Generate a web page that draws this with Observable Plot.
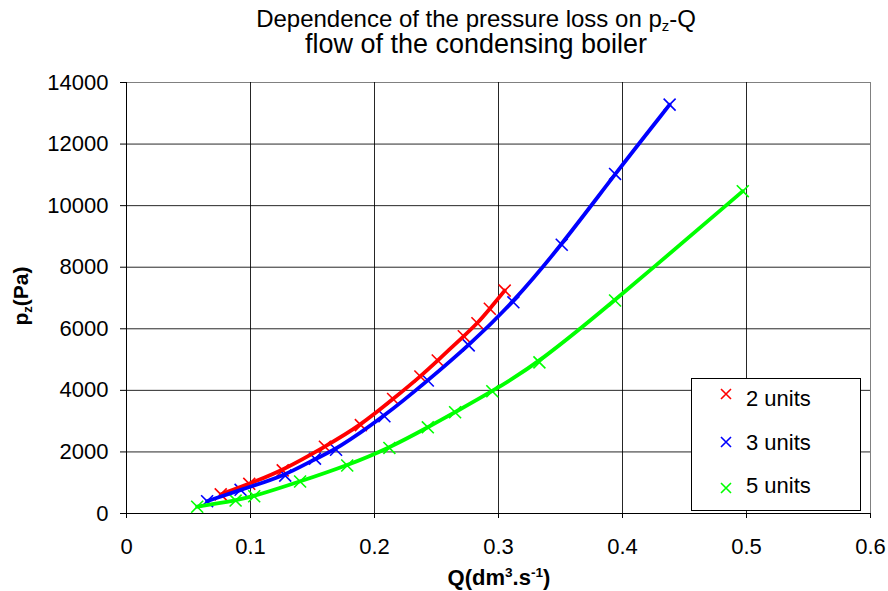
<!DOCTYPE html>
<html>
<head>
<meta charset="utf-8">
<script src="https://cdn.jsdelivr.net/npm/d3@7"></script>
<script src="https://cdn.jsdelivr.net/npm/@observablehq/plot@0.6"></script>
<style>
  html, body { margin: 0; padding: 0; background: #fff; }
  #wrap { position: relative; width: 888px; height: 591px; font-family: "Liberation Sans", Arial, sans-serif; color: #000; overflow: hidden; }
  #title1, #title2 { position: absolute; left: 76px; width: 800px; text-align: center; line-height: 1; white-space: nowrap; }
  #title1 { top: 7px; font-size: 24px; }
  #title2 { top: 31px; font-size: 27px; }
  #chart { position: absolute; left: 0; top: 60px; }
  #ylab { position: absolute; left: 22px; top: 296px; transform: translate(-50%, -50%) rotate(-90deg); font-weight: bold; font-size: 21px; white-space: nowrap; line-height: 1; }
  #xlab { position: absolute; left: 499px; top: 566px; transform: translateX(-50%); font-weight: bold; font-size: 22px; white-space: nowrap; line-height: 1; }
  sub { font-size: 0.62em; vertical-align: -0.25em; }
  sup { font-size: 0.62em; vertical-align: 0.55em; }
  #legend { position: absolute; left: 691px; top: 378px; width: 168px; height: 131px; border: 1px solid #000; background: #fff; }
  #legend svg { position: absolute; left: 28px; }
  #legend span { position: absolute; left: 54px; font-size: 22px; line-height: 1; white-space: nowrap; }
</style>
</head>
<body>
<div id="wrap">
  <div id="title1">Dependence of the pressure loss on p<sub>z</sub>-Q</div>
  <div id="title2">flow of the condensing boiler</div>
  <div id="chart"></div>
  <div id="ylab">p<sub>z</sub>(Pa)</div>
  <div id="xlab">Q(dm<sup>3</sup>.s<sup>-1</sup>)</div>
  <div id="legend"></div>
</div>
<script>
// Data
const seriesNames = ["2 units", "3 units", "5 units"];
const seriesColors = ["#ff0000", "#0000ff", "#00ff00"];

const q2 = [0.076, 0.099, 0.126, 0.160, 0.189, 0.215, 0.237, 0.251, 0.272, 0.283, 0.293, 0.305];
const p2 = [620, 965, 1400, 2170, 2870, 3720, 4450, 4970, 5760, 6180, 6650, 7240];

const q3 = [0.065, 0.092, 0.128, 0.152, 0.169, 0.208, 0.243, 0.276, 0.312, 0.351, 0.394, 0.438];
const p3 = [400, 770, 1230, 1780, 2070, 3160, 4320, 5460, 6860, 8730, 11030, 13280];

const q5 = [0.057, 0.088, 0.103, 0.140, 0.178, 0.212, 0.243, 0.265, 0.295, 0.333, 0.394, 0.497];
const p5 = [220, 420, 560, 1040, 1560, 2130, 2800, 3290, 3970, 4910, 6920, 10470];

const xTicks = [0, 0.1, 0.2, 0.3, 0.4, 0.5, 0.6];
const yTicks = [0, 2000, 4000, 6000, 8000, 10000, 12000, 14000];

const qs = [q2, q3, q5];
const ps = [p2, p3, p5];
const table = seriesNames.map((name, i) => qs[i].map((q, j) => ({series: name, q, p: ps[i][j]})));

const marks = [
  Plot.frame({stroke: "#808080", strokeWidth: 1}),
  Plot.gridX(xTicks.filter(d => d > 0 && d < 0.6), {stroke: "#000", strokeOpacity: 0.85, strokeWidth: 1}),
  Plot.gridY(yTicks.filter(d => d > 0 && d < 14000), {stroke: "#000", strokeOpacity: 0.85, strokeWidth: 1}),
  Plot.axisX({ticks: xTicks, tickSize: 5, tickPadding: 20, label: null, tickFormat: d => String(d)}),
  Plot.axisY({ticks: yTicks, tickSize: 6, tickPadding: 12, label: null, tickFormat: d => String(d)}),
  Plot.ruleX([0], {stroke: "#000"}),
  Plot.ruleY([0], {stroke: "#000"})
];
table.forEach((rows, i) => {
  marks.push(Plot.dot(rows, {x: "q", y: "p", symbol: "times", r: 5.5, stroke: seriesColors[i], strokeWidth: 1.6}));
});
table.forEach((rows, i) => {
  marks.push(Plot.line(rows, {x: "q", y: "p", stroke: seriesColors[i], strokeWidth: 3.8, curve: "basis"}));
});

const chart = Plot.plot({
  width: 888,
  height: 531,
  marginLeft: 126,
  marginRight: 18,
  marginTop: 22,
  marginBottom: 78,
  style: {fontFamily: "'Liberation Sans', Arial, sans-serif", fontSize: "22px", color: "#000", background: "transparent", overflow: "visible"},
  x: {domain: [0, 0.6]},
  y: {domain: [0, 14000]},
  marks
});
document.getElementById("chart").appendChild(chart);

// Legend
const legend = document.getElementById("legend");
const markerTops = [9, 57, 103];
const textTops = [9, 53, 96];
seriesNames.forEach((name, i) => {
  const c = seriesColors[i];
  const svg = document.createElementNS("http://www.w3.org/2000/svg", "svg");
  svg.setAttribute("width", "12");
  svg.setAttribute("height", "12");
  svg.style.top = markerTops[i] + "px";
  svg.innerHTML = `<path d="M1,1L11,11M11,1L1,11" stroke="${c}" stroke-width="1.6"/>`;
  legend.appendChild(svg);
  const span = document.createElement("span");
  span.style.top = textTops[i] + "px";
  span.textContent = name;
  legend.appendChild(span);
});
</script>
</body>
</html>
